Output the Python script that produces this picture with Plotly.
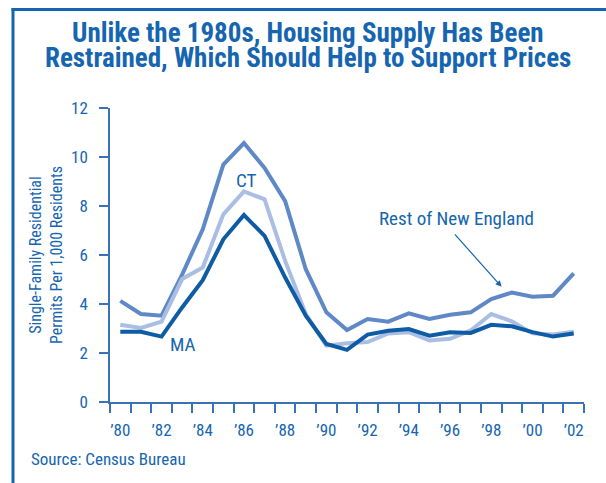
import plotly.graph_objects as go

years = list(range(1980, 2003))
rest_ne = [4.13, 3.59, 3.52, 5.2, 7.05, 9.69, 10.57, 9.55, 8.2, 5.42, 3.66, 2.94,
           3.39, 3.28, 3.62, 3.39, 3.56, 3.66, 4.2, 4.47, 4.3, 4.34, 5.25]
ct = [3.15, 3.02, 3.28, 5.02, 5.49, 7.66, 8.6, 8.27, 5.76, 3.59, 2.3, 2.4,
      2.45, 2.8, 2.85, 2.51, 2.58, 2.92, 3.59, 3.29, 2.8, 2.76, 2.87]
ma = [2.87, 2.87, 2.67, 3.86, 4.97, 6.64, 7.63, 6.78, 5.08, 3.52, 2.37, 2.13,
      2.75, 2.91, 2.98, 2.71, 2.85, 2.82, 3.15, 3.09, 2.85, 2.67, 2.8]
tick_years = list(range(1980, 2003, 2))
tick_labels = ["\u2019%02d" % (y % 100) for y in tick_years]
title_lines = ["Unlike the 1980s, Housing Supply Has Been",
               "Restrained, Which Should Help to Support Prices"]

BLUE = "#1565b0"
FONT = "Roboto Condensed, Liberation Sans Narrow, DejaVu Sans Condensed, sans-serif"

fig = go.Figure()
fig.add_trace(go.Scatter(x=years, y=rest_ne, mode="lines", name="Rest of New England",
                         line=dict(color="#5f89c6", width=4)))
fig.add_trace(go.Scatter(x=years, y=ct, mode="lines", name="CT",
                         line=dict(color="#a9bee2", width=4)))
fig.add_trace(go.Scatter(x=years, y=ma, mode="lines", name="MA",
                         line=dict(color="#0e5ca6", width=4)))

L, R, T, B = 110, 22, 108, 81
W, H = 606, 483
pw, ph = W - L - R, H - T - B

def px(xp):
    return (xp - L) / pw

def py(yp):
    return (H - B - yp) / ph

annotations = []
for line, yc in zip(title_lines, [33, 58]):
    annotations.append(dict(text="<b>%s</b>" % line, xref="paper", yref="paper",
                            x=px(308), y=py(yc), xanchor="center", yanchor="middle",
                            showarrow=False, font=dict(family=FONT, size=27, color=BLUE)))
annotations += [
    dict(text="Single-Family Residential<br>Permits Per 1,000 Residents",
         xref="paper", yref="paper", x=px(46), y=0.5, textangle=-90,
         showarrow=False, xanchor="center", yanchor="middle",
         font=dict(family=FONT, size=16, color=BLUE)),
    dict(text="CT", x=1986.14, y=9.06, showarrow=False,
         font=dict(family=FONT, size=19, color=BLUE)),
    dict(text="MA", x=1983.03, y=2.33, showarrow=False,
         font=dict(family=FONT, size=19, color=BLUE)),
    dict(text="", x=1998.5, y=4.7, ax=-48, ay=-54, showarrow=True,
         arrowhead=2, arrowsize=1, arrowwidth=1.2, arrowcolor=BLUE),
    dict(text="Rest of New England", x=1996.33, y=7.51, showarrow=False,
         font=dict(family=FONT, size=19, color=BLUE)),
    dict(text="Source: Census Bureau", xref="paper", yref="paper",
         x=px(29), y=py(459), xanchor="left", yanchor="middle", showarrow=False,
         font=dict(family=FONT, size=17, color=BLUE)),
]

fig.update_layout(
    width=W, height=H,
    margin=dict(l=L, r=R, t=T, b=B),
    paper_bgcolor="white", plot_bgcolor="white",
    showlegend=False,
    font=dict(family=FONT, color=BLUE, size=16),
    annotations=annotations,
    xaxis=dict(
        range=[1979.5, 2002.5], tickmode="array", tickvals=tick_years, ticktext=tick_labels,
        ticks="", showgrid=False, zeroline=False,
        showline=True, linecolor="#3a72b8", linewidth=1.5,
        ticklabelstandoff=12,
        tickfont=dict(family=FONT, size=17, color=BLUE),
        minor=dict(ticks="outside", tick0=1979.5, dtick=1, ticklen=9,
                   tickcolor="#3a72b8", tickwidth=1.5, showgrid=False),
    ),
    yaxis=dict(
        range=[0, 12], tickmode="array", tickvals=[0, 2, 4, 6, 8, 10, 12],
        ticks="outside", ticklen=9, tickcolor="#3a72b8", tickwidth=1.5,
        showgrid=False, zeroline=False,
        showline=True, linecolor="#3a72b8", linewidth=1.5,
        ticklabelstandoff=8,
        tickfont=dict(family=FONT, size=17, color=BLUE),
    ),
    shapes=[
        dict(type="line", xref="paper", yref="paper", x0=px(13), x1=px(13),
             y0=py(8), y1=py(490), line=dict(color=BLUE, width=3)),
        dict(type="line", xref="paper", yref="paper", x0=px(11.5), x1=px(620),
             y0=py(9.5), y1=py(9.5), line=dict(color=BLUE, width=3)),
    ],
)

fig.write_html("out.html", config={"displayModeBar": False},
               post_script="document.body.style.margin='0';")
